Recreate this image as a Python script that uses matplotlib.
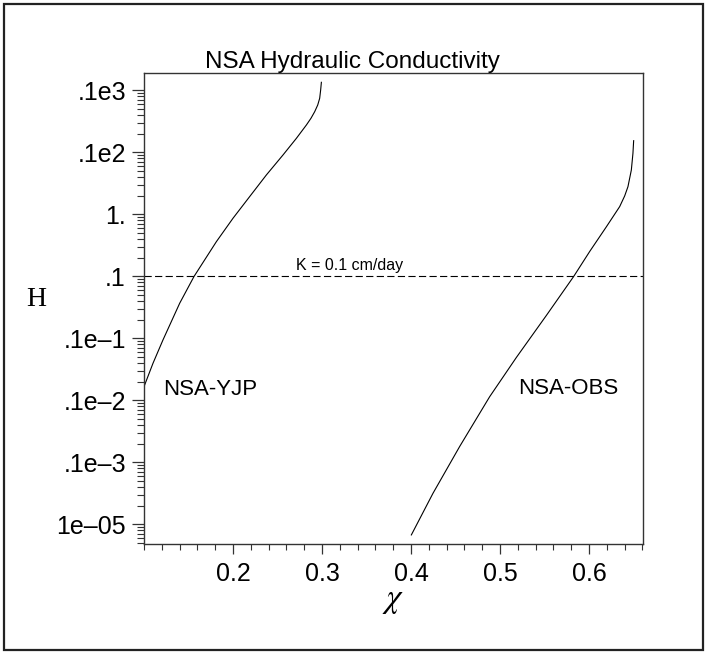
import matplotlib
matplotlib.use("Agg")
import matplotlib.pyplot as plt
from matplotlib.patches import Rectangle
from matplotlib.ticker import FixedLocator, FixedFormatter, LogLocator, MultipleLocator, NullFormatter

plt.rcParams["mathtext.fontset"] = "stix"

# ---- data ----
yjp_x = [0.1000, 0.1101, 0.1213, 0.1401, 0.1562, 0.1813, 0.2000, 0.2187, 0.2375,
         0.2562, 0.2712, 0.2825, 0.2876, 0.2918, 0.2952, 0.2974, 0.2985, 0.2993]
yjp_h = [0.00167, 0.00398, 0.00946, 0.0370, 0.100, 0.364, 0.869, 1.94, 4.34,
         9.12, 16.9, 27.8, 35.6, 45.5, 58.3, 74.8, 101.9, 135.5]

obs_x = [0.4004, 0.4247, 0.4547, 0.4884, 0.5184, 0.5521, 0.5828, 0.6008, 0.6196,
         0.6345, 0.6401, 0.6438, 0.6476, 0.6494, 0.6502]
obs_h = [6.78e-6, 3.18e-5, 1.81e-4, 1.15e-3, 4.94e-3, 0.0235, 0.100, 0.253, 0.635,
         1.34, 1.99, 2.81, 5.22, 9.70, 15.5]

k_level = 0.1
y_tick_vals = [100, 10, 1, 0.1, 0.01, 0.001, 0.0001, 0.00001]
y_tick_labels = [".1e3", ".1e2", "1.", ".1", ".1e\u20131", ".1e\u20132", ".1e\u20133", "1e\u201305"]
x_tick_vals = [0.2, 0.3, 0.4, 0.5, 0.6]
x_tick_labels = ["0.2", "0.3", "0.4", "0.5", "0.6"]

title = "NSA Hydraulic Conductivity"
fam = ["Liberation Sans", "DejaVu Sans"]
serif = ["Liberation Serif", "DejaVu Serif"]

fig = plt.figure(figsize=(7.07, 6.54), dpi=100)
ax = fig.add_axes([144/707, 1-544/654, (643-144)/707, (544-73)/654])

ax.plot(yjp_x, yjp_h, color="black", lw=0.8)
ax.plot(obs_x, obs_h, color="black", lw=0.8)
ax.axhline(k_level, color="black", lw=0.8, dashes=(6.5, 3.0))

ax.set_yscale("log")
ax.set_xlim(0.1, 0.6607)
ax.set_ylim(10**-5.315, 10**2.282)

ax.yaxis.set_major_locator(FixedLocator(y_tick_vals))
ax.yaxis.set_major_formatter(FixedFormatter(y_tick_labels))
ax.yaxis.set_minor_locator(LogLocator(base=10, subs=range(2, 10), numticks=20))
ax.yaxis.set_minor_formatter(NullFormatter())
ax.xaxis.set_major_locator(FixedLocator(x_tick_vals))
ax.xaxis.set_major_formatter(FixedFormatter(x_tick_labels))
ax.xaxis.set_minor_locator(MultipleLocator(0.02))

ax.tick_params(axis="both", which="major", direction="out", color="#333", width=0.9,
               labelsize=18)
ax.tick_params(axis="y", which="major", length=9, pad=4)
ax.tick_params(axis="x", which="major", length=7, pad=6)
ax.tick_params(axis="both", which="minor", direction="out", color="#333", width=0.8, length=4)
ax.tick_params(axis="y", which="minor", length=5)
for lab in ax.get_xticklabels() + ax.get_yticklabels():
    lab.set_fontfamily(fam)

for s in ax.spines.values():
    s.set_color("#333")
    s.set_linewidth(1.0)

ax.text(0.3315, 10**-0.815, "K = 0.1 cm/day", fontsize=11.5, family=fam,
        ha="center", va="center")
ax.text(0.1742, 10**-2.83, "NSA-YJP", fontsize=16, family=fam, ha="center", va="center")
ax.text(0.5764, 10**-2.80, "NSA-OBS", fontsize=16, family=fam, ha="center", va="center")

fig.text(352/707, 1-62/654, title, fontsize=17.5, family=fam, ha="center", va="center")
fig.text(36/707, 1-300/654, "H", fontsize=20, family=serif, ha="center", va="center")
fig.text(393/707, 1-600/654, r"$\chi$", fontsize=24, ha="center", va="center")

fig.patches.append(Rectangle((4/707, 4/654), 699/707, 646/654, transform=fig.transFigure,
                             fill=False, edgecolor="#222", lw=1.6))

fig.savefig("out.png", dpi=100)
